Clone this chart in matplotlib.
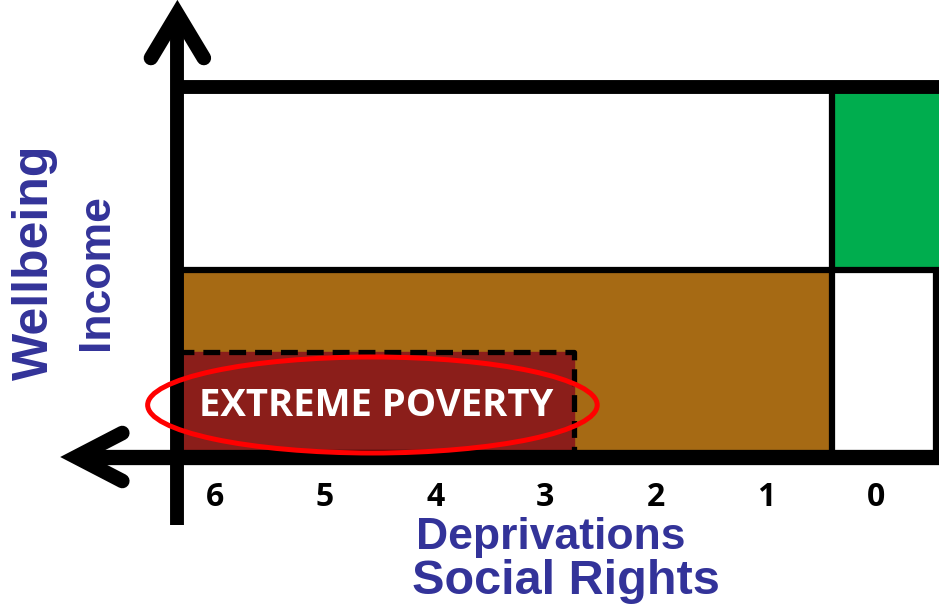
import matplotlib.pyplot as plt
from matplotlib.patches import Rectangle, Ellipse

# deprivation counts shown along the horizontal axis (drawn right-to-left)
deprivations = [6, 5, 4, 3, 2, 1, 0]

# thresholds (x: deprivations, y: income level)
x_axis_pos = 6.34          # where the income axis sits
x_right = -0.545           # right edge of the boxes
x_deprivation_line = 0.40  # between 1 and 0 deprivations
x_extreme_line = 2.74      # extreme poverty limit in deprivations
y_top = 3.70
y_wellbeing_line = 1.87
y_extreme_line = 1.05

blue = '#333399'
brown = '#A66A14'
darkred = '#8B1E1A'
green = '#00AD4E'

fig = plt.figure(figsize=(9.39, 6.10), dpi=100)
ax = fig.add_axes([0, 0, 1, 1])
ax.set_xlim(7.95, -0.572)
ax.set_ylim(-1.53, 4.57)
ax.axis('off')

# filled regions
ax.add_patch(Rectangle((x_deprivation_line, y_wellbeing_line), -0.572 - x_deprivation_line,
                       y_top - y_wellbeing_line, color=green, zorder=1))
ax.add_patch(Rectangle((x_axis_pos, 0), x_deprivation_line - x_axis_pos, y_wellbeing_line,
                       color=brown, zorder=1))
ax.add_patch(Rectangle((x_axis_pos, 0), x_extreme_line - x_axis_pos, y_extreme_line,
                       color=darkred, zorder=2))

# dashed border of extreme poverty box
ax.plot([x_axis_pos, x_extreme_line, x_extreme_line], [y_extreme_line, y_extreme_line, 0],
        color='black', lw=3.8, ls=(0, (3.2, 1.7)), zorder=3)

# grid lines of the diagram
ax.plot([x_axis_pos, -0.572], [y_top, y_top], color='black', lw=10, solid_capstyle='butt', zorder=4)
ax.plot([x_axis_pos, -0.572], [y_wellbeing_line, y_wellbeing_line], color='black', lw=4.5,
        solid_capstyle='butt', zorder=4)
ax.plot([x_deprivation_line, x_deprivation_line], [0, y_top], color='black', lw=4.5,
        solid_capstyle='butt', zorder=4)
ax.plot([x_right, x_right], [0, y_wellbeing_line], color='black', lw=4.5, solid_capstyle='butt', zorder=4)

# axes with open arrow heads
ax.plot([x_axis_pos, x_axis_pos], [-0.68, 4.40], color='black', lw=10, solid_capstyle='butt', zorder=5)
ax.plot([6.58, x_axis_pos, 6.10], [3.99, 4.43, 3.99], color='black', lw=10.5,
        solid_capstyle='round', solid_joinstyle='miter', zorder=5)
ax.plot([7.22, -0.572], [0, 0], color='black', lw=11, solid_capstyle='butt', zorder=5)
ax.plot([6.84, 7.26, 6.84], [0.24, 0, -0.24], color='black', lw=10.5,
        solid_capstyle='round', solid_joinstyle='miter', zorder=5)

# extreme poverty label and ring
ax.text(4.54, 0.51, 'EXTREME POVERTY', color='white', fontsize=27.5, fontweight='bold',
        family='Open Sans', ha='center', va='center', zorder=6)
ax.add_patch(Ellipse((4.57, 0.52), 4.08, 0.96, fill=False, edgecolor='#FF0000', lw=3.6, zorder=7))

# tick labels
for d in deprivations:
    ax.text(d, -0.40, str(d), fontsize=23, fontweight='bold', family='Open Sans',
            ha='center', va='center', color='black')

# axis titles
ax.text(7.63, 1.95, 'Wellbeing', rotation=90, color=blue, fontsize=36, fontweight='bold',
        family='Liberation Sans', ha='center', va='center')
ax.text(7.07, 1.85, 'Income', rotation=90, color=blue, fontsize=32, fontweight='bold',
        family='Liberation Sans', ha='center', va='center')
ax.text(2.95, -0.80, 'Deprivations', color=blue, fontsize=32, fontweight='bold',
        family='Liberation Sans', ha='center', va='center')
ax.text(2.81, -1.25, 'Social Rights', color=blue, fontsize=35, fontweight='bold',
        family='Liberation Sans', ha='center', va='center')

fig.savefig('out.png', dpi=100)
